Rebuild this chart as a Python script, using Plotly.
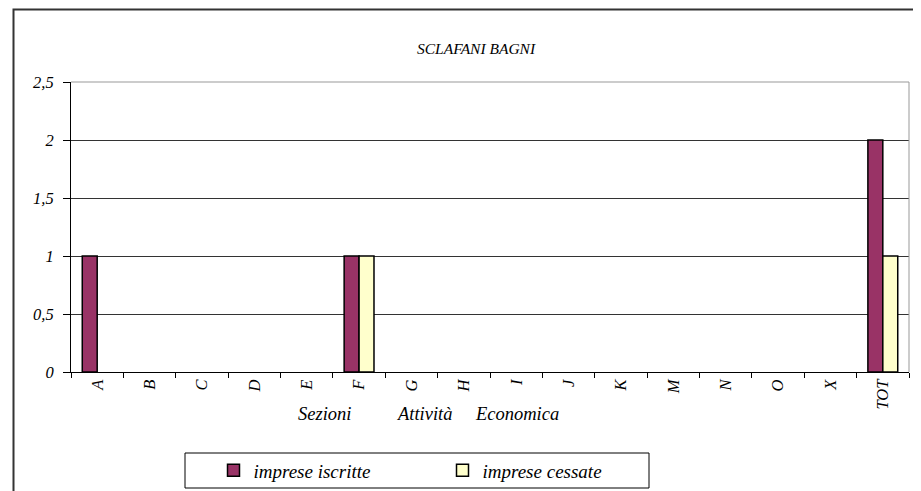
import plotly.graph_objects as go

categories = ["A", "B", "C", "D", "E", "F", "G", "H", "I", "J", "K", "M", "N", "O", "X", "TOT"]
iscritte = [1, 0, 0, 0, 0, 1, 0, 0, 0, 0, 0, 0, 0, 0, 0, 2]
cessate = [0, 0, 0, 0, 0, 1, 0, 0, 0, 0, 0, 0, 0, 0, 0, 1]
y_ticks = [0, 0.5, 1, 1.5, 2, 2.5]
axis_words = ["Sezioni", "Attività", "Economica"]

FONT = "Liberation Serif"
W, H = 921, 491
OFF = 8  # page offset of the figure (body margin)
L, R, T, B = 63, 20, 74, 127
pw, ph = W - L - R, H - T - B

def px_x(x):
    return (x - OFF - L) / pw

def px_y(y):
    return (H - B - (y - OFF)) / ph

def drawn(vals):
    # zero-height bars are not drawn (no outline at the baseline)
    return [v if v else None for v in vals]

fig = go.Figure()
fig.add_trace(go.Bar(x=categories, y=drawn(iscritte), name="imprese iscritte",
                     marker=dict(color="#993366", line=dict(color="black", width=1.5))))
fig.add_trace(go.Bar(x=categories, y=drawn(cessate), name="imprese cessate",
                     marker=dict(color="#FFFFCC", line=dict(color="black", width=1.5))))

word_x = [297, 395, 474]
annotations = [
    dict(text="SCLAFANI BAGNI", xref="paper", yref="paper", x=px_x(476), y=px_y(48),
         showarrow=False, font=dict(family=FONT, size=15.5, style="italic"),
         xanchor="center", yanchor="middle"),
]
for w, xw in zip(axis_words, word_x):
    annotations.append(dict(text=w, xref="paper", yref="paper", x=px_x(xw), y=px_y(414),
                            showarrow=False, font=dict(family=FONT, size=18.5, style="italic"),
                            xanchor="left", yanchor="middle", xshift=-1))

fig.update_layout(
    width=W, height=H,
    margin=dict(l=L, r=R, t=T, b=B, autoexpand=False),
    paper_bgcolor="white", plot_bgcolor="white",
    separators=",.",
    barmode="group", bargap=0.43, bargroupgap=0,
    font=dict(family=FONT, color="black"),
    showlegend=True,
    legend=dict(orientation="h", x=px_x(213.5), y=px_y(470.5), xanchor="left", yanchor="middle",
                borderwidth=0, bgcolor="rgba(0,0,0,0)",
                font=dict(family=FONT, size=19, style="italic"),
                entrywidth=184, entrywidthmode="pixels", itemwidth=30),
    xaxis=dict(type="category", tickson="boundaries", ticks="outside", ticklen=5,
               tickcolor="black", showline=True, linecolor="black", linewidth=1,
               tickangle=-90, tickfont=dict(family=FONT, size=16.5, style="italic"),
               showgrid=False, automargin=False),
    yaxis=dict(range=[0, 2.5], tickvals=y_ticks, ticks="outside", ticklen=7,
               tickcolor="black", showline=True, linecolor="black", linewidth=1,
               showgrid=True, gridcolor="#333333", gridwidth=1,
               tickfont=dict(family=FONT, size=16.5, style="italic"),
               ticklabelstandoff=6,
               zeroline=False, automargin=False),
    shapes=[
        dict(type="line", xref="paper", yref="paper", x0=0, x1=1, y0=1, y1=1,
             line=dict(color="#999999", width=1)),
        dict(type="line", xref="paper", yref="paper", x0=1, x1=1, y0=0, y1=1,
             line=dict(color="#999999", width=1)),
        dict(type="rect", xref="paper", yref="paper", x0=px_x(13.5), x1=px_x(935),
             y0=px_y(510), y1=px_y(9.5), line=dict(color="#333333", width=2),
             fillcolor="rgba(0,0,0,0)", layer="below"),
        dict(type="rect", xref="paper", yref="paper", x0=px_x(185), x1=px_x(649),
             y0=px_y(488), y1=px_y(453), line=dict(color="black", width=1),
             fillcolor="rgba(0,0,0,0)", layer="above"),
    ],
    annotations=annotations,
)

fig.write_html("out.html")
